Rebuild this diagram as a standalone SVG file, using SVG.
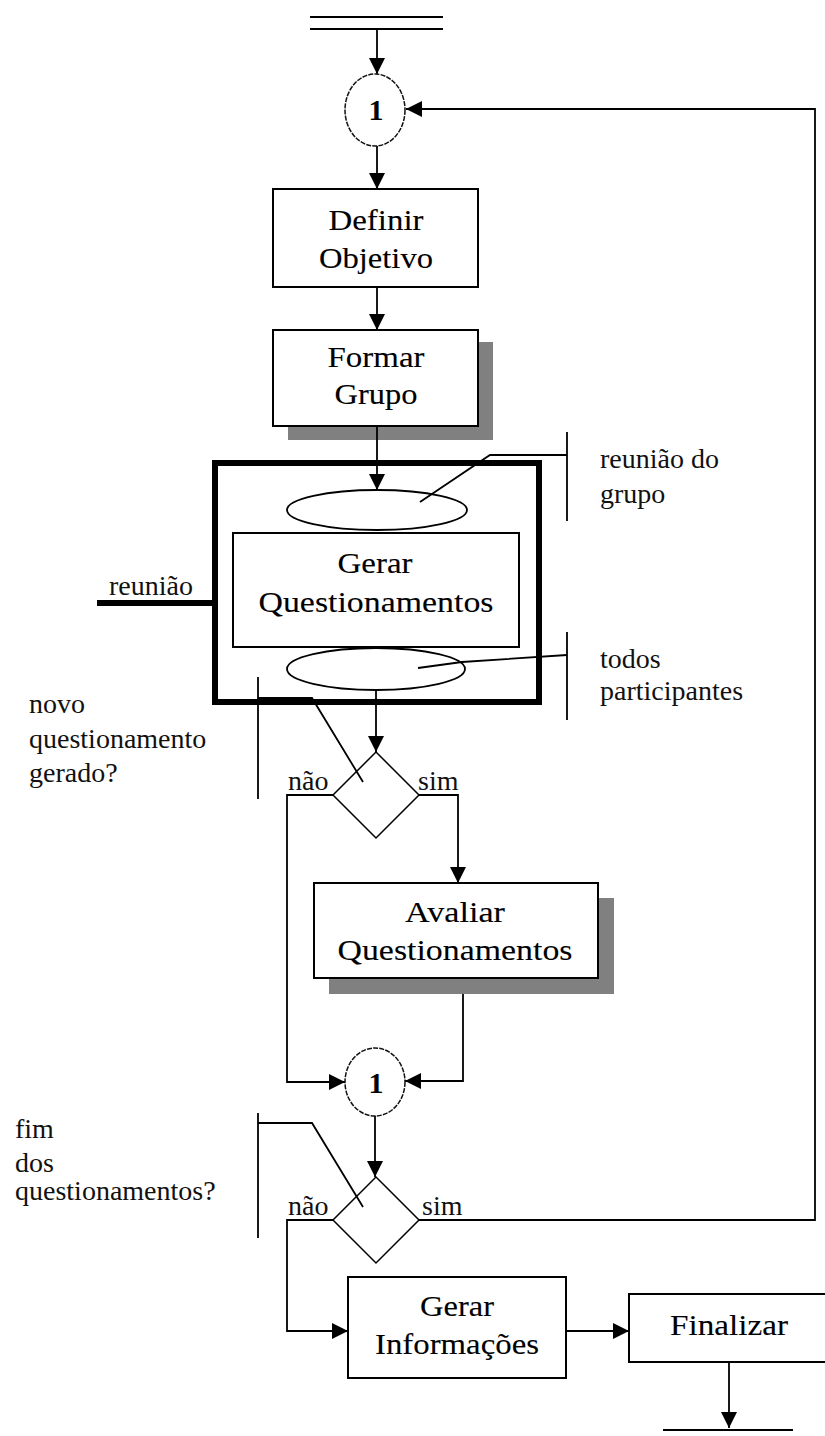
<svg xmlns="http://www.w3.org/2000/svg" width="825" height="1436" viewBox="0 0 825 1436">
  <style>
    .ln { fill: none; stroke: #000; stroke-width: 1.8; }
    .box { fill: #fff; stroke: #000; stroke-width: 2; }
    .shadow { fill: #808080; stroke: none; }
    .conn { fill: #fff; stroke: #111; stroke-width: 1.5; stroke-dasharray: 5 1.2; }
    .t { font-family: "Liberation Serif", "Times New Roman", serif; font-size: 29px; fill: #000; stroke: #000; stroke-width: 0.1; text-anchor: middle; }
    .lbl { font-family: "Liberation Serif", "Times New Roman", serif; font-size: 28px; fill: #111; }
    .num { font-family: "Liberation Serif", "Times New Roman", serif; font-size: 30px; font-weight: bold; fill: #000; text-anchor: middle; }
  </style>
  <defs>
    <marker id="arrow" markerUnits="userSpaceOnUse" markerWidth="16" markerHeight="16" refX="16" refY="8" orient="auto">
      <path d="M0,0 L16,8 L0,16 z" fill="#000"/>
    </marker>
  </defs>
  <rect width="825" height="1436" fill="#fff"/>

  <!-- start bar -->
  <g id="start">
    <line class="ln" x1="310" y1="17" x2="443" y2="17"/>
    <line class="ln" x1="310" y1="29" x2="443" y2="29"/>
  </g>

  <!-- connectors -->
  <g id="connectors">
    <line class="ln" x1="377" y1="29" x2="377" y2="74" marker-end="url(#arrow)"/>
    <polyline class="ln" points="729,1220 815,1220 815,109 406,109" marker-end="url(#arrow)"/>
    <line class="ln" x1="377" y1="146" x2="377" y2="189" marker-end="url(#arrow)"/>
    <line class="ln" x1="377" y1="287" x2="377" y2="330" marker-end="url(#arrow)"/>
    <line class="ln" x1="377" y1="426" x2="377" y2="490" marker-end="url(#arrow)"/>
    <line class="ln" x1="376" y1="690" x2="376" y2="752" marker-end="url(#arrow)"/>
    <polyline class="ln" points="419,795 458,795 458,883" marker-end="url(#arrow)"/>
    <polyline class="ln" points="333,795 287,795 287,1082 345,1082" marker-end="url(#arrow)"/>
    <polyline class="ln" points="463,978 463,1081 405,1081" marker-end="url(#arrow)"/>
    <line class="ln" x1="375" y1="1116" x2="375" y2="1177" marker-end="url(#arrow)"/>
    <line class="ln" x1="419" y1="1220" x2="730" y2="1220"/>
    <polyline class="ln" points="333,1220 287,1220 287,1331 348,1331" marker-end="url(#arrow)"/>
    <line class="ln" x1="567" y1="1331" x2="629" y2="1331" marker-end="url(#arrow)"/>
    <line class="ln" x1="729" y1="1362" x2="729" y2="1428" marker-end="url(#arrow)"/>
    <!-- reunião input -->
    <line x1="97" y1="603" x2="215" y2="603" stroke="#000" stroke-width="6"/>
  </g>

  <!-- end bar -->
  <g id="end">
    <line class="ln" x1="663" y1="1430" x2="793" y2="1430"/>
  </g>

  <!-- connector circle 1 (top) -->
  <g id="circle-top">
    <ellipse class="conn" cx="375" cy="110" rx="30" ry="36"/>
    <text class="num" x="376" y="120">1</text>
  </g>

  <g id="definir-objetivo">
    <rect class="box" x="273" y="189" width="205" height="98"/>
    <text class="t" x="376" y="230" textLength="95" lengthAdjust="spacingAndGlyphs">Definir</text>
    <text class="t" x="376" y="268" textLength="114" lengthAdjust="spacingAndGlyphs">Objetivo</text>
  </g>

  <g id="formar-grupo">
    <rect class="shadow" x="288" y="342" width="205" height="98"/>
    <rect class="box" x="273" y="330" width="205" height="96"/>
    <text class="t" x="376" y="367" textLength="97" lengthAdjust="spacingAndGlyphs">Formar</text>
    <text class="t" x="376" y="404" textLength="83" lengthAdjust="spacingAndGlyphs">Grupo</text>
    <line class="ln" x1="377" y1="426" x2="377" y2="440"/>
  </g>

  <!-- meeting frame with Gerar Questionamentos -->
  <g id="reuniao-frame">
    <rect x="215" y="463" width="324" height="239" fill="none" stroke="#000" stroke-width="6"/>
    <ellipse class="ln" cx="377" cy="510" rx="90" ry="20"/>
    <ellipse class="ln" cx="376" cy="669" rx="89" ry="21"/>
  </g>

  <g id="gerar-questionamentos">
    <rect class="box" x="233" y="533" width="286" height="114"/>
    <text class="t" x="375" y="573" textLength="75" lengthAdjust="spacingAndGlyphs">Gerar</text>
    <text class="t" x="376" y="612" textLength="235" lengthAdjust="spacingAndGlyphs">Questionamentos</text>
  </g>

  <g id="label-reuniao">
    <text class="lbl" x="109" y="595">reunião</text>
  </g>

  <!-- annotation: reunião do grupo -->
  <g id="note-reuniao-grupo">
    <polyline class="ln" points="420,502 490,455 567,455"/>
    <line class="ln" x1="567" y1="432" x2="567" y2="521"/>
    <text class="lbl" x="600" y="468">reunião do</text>
    <text class="lbl" x="600" y="503">grupo</text>
  </g>

  <!-- annotation: todos participantes -->
  <g id="note-participantes">
    <polyline class="ln" points="418,668 462,662 567,655"/>
    <line class="ln" x1="567" y1="632" x2="567" y2="720"/>
    <text class="lbl" x="600" y="668">todos</text>
    <text class="lbl" x="600" y="700">participantes</text>
  </g>

  <!-- decision: novo questionamento gerado? -->
  <g id="decision-novo">
    <polygon class="box" points="376,752 419,795 376,838 333,795" style="stroke-width:1.5"/>
    <text class="lbl" x="288" y="790">não</text>
    <text class="lbl" x="418" y="790">sim</text>
  </g>
  <g id="note-novo">
    <line class="ln" x1="258" y1="677" x2="258" y2="799"/>
    <polyline class="ln" points="258,698 312,698 363,782"/>
    <text class="lbl" x="29" y="713">novo</text>
    <text class="lbl" x="29" y="748">questionamento</text>
    <text class="lbl" x="29" y="782">gerado?</text>
  </g>

  <g id="avaliar-questionamentos">
    <rect class="shadow" x="329" y="898" width="285" height="96"/>
    <rect class="box" x="314" y="883" width="284" height="95"/>
    <text class="t" x="455" y="922" textLength="100" lengthAdjust="spacingAndGlyphs">Avaliar</text>
    <text class="t" x="455" y="960" textLength="235" lengthAdjust="spacingAndGlyphs">Questionamentos</text>
  </g>

  <!-- connector circle 1 (middle) -->
  <g id="circle-mid">
    <ellipse class="conn" cx="375" cy="1082" rx="30" ry="34"/>
    <text class="num" x="376" y="1093">1</text>
  </g>

  <!-- decision: fim dos questionamentos? -->
  <g id="decision-fim">
    <polygon class="box" points="376,1177 419,1220 376,1263 333,1220" style="stroke-width:1.5"/>
    <text class="lbl" x="288" y="1215">não</text>
    <text class="lbl" x="422" y="1215">sim</text>
  </g>
  <g id="note-fim">
    <line class="ln" x1="258" y1="1113" x2="258" y2="1238"/>
    <polyline class="ln" points="258,1123 312,1123 363,1207"/>
    <text class="lbl" x="15" y="1138">fim</text>
    <text class="lbl" x="15" y="1172">dos</text>
    <text class="lbl" x="15" y="1200">questionamentos?</text>
  </g>

  <g id="gerar-informacoes">
    <rect class="box" x="348" y="1277" width="218" height="101"/>
    <text class="t" x="457" y="1316" textLength="74" lengthAdjust="spacingAndGlyphs">Gerar</text>
    <text class="t" x="457" y="1354" textLength="164" lengthAdjust="spacingAndGlyphs">Informações</text>
  </g>

  <g id="finalizar">
    <rect class="box" x="629" y="1294" width="210" height="68"/>
    <text class="t" x="729" y="1335" textLength="118" lengthAdjust="spacingAndGlyphs">Finalizar</text>
  </g>
</svg>
